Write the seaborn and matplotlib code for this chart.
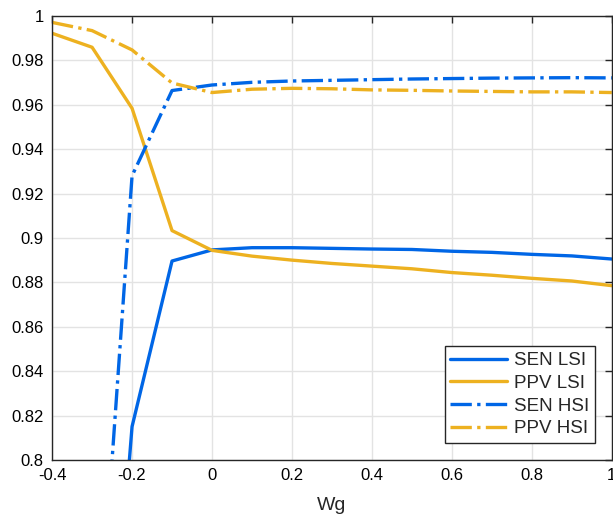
import matplotlib
matplotlib.use("Agg")
import matplotlib.pyplot as plt
import matplotlib.ticker as mticker
import seaborn as sns
import pandas as pd

sns.set_style("whitegrid")
plt.rcParams['font.family'] = ['Liberation Sans', 'DejaVu Sans']

# Wg values and curve readings
wg = [-0.4, -0.3, -0.2, -0.1, 0.0, 0.1, 0.2, 0.3, 0.4, 0.5, 0.6, 0.7, 0.8, 0.9, 1.0]
sen_lsi = [0.45, 0.59, 0.815, 0.8896, 0.8946, 0.8956, 0.8956, 0.8953, 0.8950,
           0.8948, 0.8940, 0.8935, 0.8926, 0.8919, 0.8905]
ppv_lsi = [0.9922, 0.9859, 0.9584, 0.9033, 0.8944, 0.8918, 0.8900, 0.8885, 0.8873,
           0.8861, 0.8844, 0.8832, 0.8818, 0.8806, 0.8785]
sen_hsi = [0.55, 0.672, 0.928, 0.9664, 0.9689, 0.9701, 0.9707, 0.9710, 0.9713,
           0.9716, 0.9718, 0.9720, 0.9721, 0.9722, 0.9721]
ppv_hsi = [0.9971, 0.9934, 0.9847, 0.9698, 0.9655, 0.9670, 0.9674, 0.9672, 0.9667,
           0.9665, 0.9662, 0.9660, 0.9658, 0.9658, 0.9655]

blue = '#0066e6'
yellow = '#edb120'

series = [
    ('SEN LSI', sen_lsi, blue, '-'),
    ('PPV LSI', ppv_lsi, yellow, '-'),
    ('SEN HSI', sen_hsi, blue, '-.'),
    ('PPV HSI', ppv_hsi, yellow, '-.'),
]

fig = plt.figure(figsize=(6.13, 5.15), dpi=100)
ax = fig.add_axes([0.085, 0.107, 0.913, 0.862])

for name, vals, col, ls in series:
    df = pd.DataFrame({'Wg': wg, 'val': vals})
    sns.lineplot(data=df, x='Wg', y='val', ax=ax, color=col, linestyle=ls,
                 linewidth=2.4, label=name)

ax.set_xlim(-0.4, 1)
ax.set_ylim(0.8, 1)
ax.set_xticks([-0.4, -0.2, 0, 0.2, 0.4, 0.6, 0.8, 1])
ax.set_yticks([0.8 + 0.02 * i for i in range(11)])
ax.xaxis.set_major_formatter(mticker.FormatStrFormatter('%g'))
ax.yaxis.set_major_formatter(mticker.FuncFormatter(lambda v, p: f"{round(v, 2):g}"))
ax.set_xlabel('Wg', fontsize=14, labelpad=10)
ax.set_ylabel('')
ax.tick_params(direction='in', length=5, width=1, top=True, right=True,
               labelsize=12, colors='#262626', labelcolor='black', pad=6)
ax.grid(True, color='#e3e3e3', linewidth=1)
for sp in ax.spines.values():
    sp.set_color('#262626')
    sp.set_linewidth(1)

leg = ax.legend(loc='lower right', fontsize=13.5, frameon=True, fancybox=False,
                framealpha=1, edgecolor='#262626', handlelength=3.0,
                borderaxespad=0.9, labelspacing=0.3, handletextpad=0.4,
                borderpad=0.3)
leg.get_frame().set_linewidth(1)

fig.savefig('out.png', dpi=100)
